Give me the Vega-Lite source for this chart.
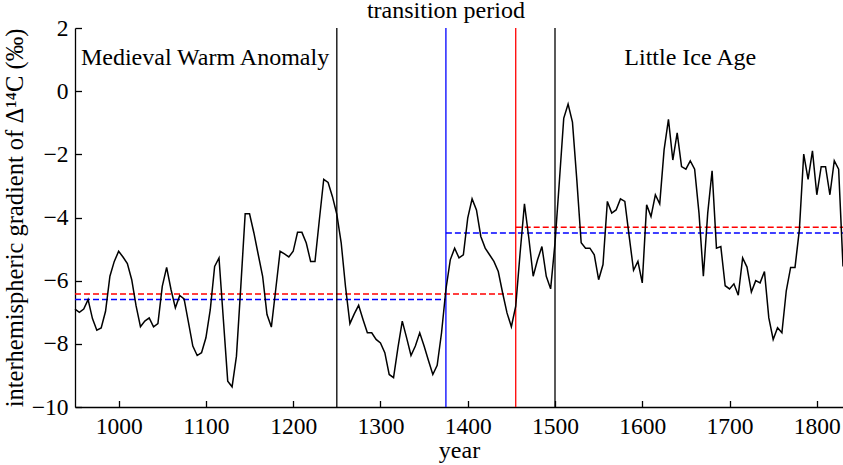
{
  "$schema": "https://vega.github.io/schema/vega-lite/v6.json",
  "width": 768,
  "height": 379,
  "autosize": "none",
  "padding": {"left": 75, "top": 28, "right": 0, "bottom": 58},
  "config": {
    "view": {"stroke": null},
    "font": "Liberation Serif",
    "axis": {
      "grid": false,
      "domainColor": "black",
      "domainWidth": 1.3,
      "tickColor": "black",
      "tickWidth": 1.3,
      "tickSize": 6.5,
      "labelPadding": 7,
      "labelFont": "Liberation Serif",
      "labelFontSize": 23.5,
      "labelColor": "black",
      "titleFont": "Liberation Serif",
      "titleFontSize": 24,
      "titleFontWeight": "normal",
      "titleColor": "black"
    }
  },
  "datasets": {
    "gradient": [
      {"year": 950, "value": -6.9}, {"year": 955, "value": -7.0}, {"year": 960, "value": -6.9},
      {"year": 965, "value": -6.6}, {"year": 970, "value": -7.2}, {"year": 975, "value": -7.57},
      {"year": 980, "value": -7.5}, {"year": 985, "value": -6.97}, {"year": 990, "value": -5.86},
      {"year": 995, "value": -5.39}, {"year": 1000, "value": -5.07}, {"year": 1005, "value": -5.25},
      {"year": 1010, "value": -5.46}, {"year": 1015, "value": -5.97}, {"year": 1020, "value": -6.8},
      {"year": 1025, "value": -7.46}, {"year": 1030, "value": -7.28}, {"year": 1035, "value": -7.18},
      {"year": 1040, "value": -7.46}, {"year": 1045, "value": -7.36}, {"year": 1050, "value": -6.18},
      {"year": 1055, "value": -5.58}, {"year": 1060, "value": -6.28}, {"year": 1065, "value": -6.86},
      {"year": 1070, "value": -6.47}, {"year": 1075, "value": -6.58}, {"year": 1080, "value": -7.32},
      {"year": 1085, "value": -8.07}, {"year": 1090, "value": -8.37}, {"year": 1095, "value": -8.28},
      {"year": 1100, "value": -7.81}, {"year": 1105, "value": -6.92}, {"year": 1110, "value": -5.55},
      {"year": 1115, "value": -5.28}, {"year": 1120, "value": -7.23}, {"year": 1125, "value": -9.18},
      {"year": 1130, "value": -9.36}, {"year": 1135, "value": -8.39}, {"year": 1140, "value": -6.18},
      {"year": 1145, "value": -3.88}, {"year": 1150, "value": -3.88}, {"year": 1155, "value": -4.49},
      {"year": 1160, "value": -5.18}, {"year": 1165, "value": -5.86}, {"year": 1170, "value": -7.07},
      {"year": 1175, "value": -7.47}, {"year": 1180, "value": -6.28}, {"year": 1185, "value": -5.07},
      {"year": 1190, "value": -5.15}, {"year": 1195, "value": -5.25}, {"year": 1200, "value": -5.07},
      {"year": 1205, "value": -4.47}, {"year": 1210, "value": -4.47}, {"year": 1215, "value": -4.81},
      {"year": 1220, "value": -5.39}, {"year": 1225, "value": -5.39}, {"year": 1230, "value": -4.07},
      {"year": 1235, "value": -2.79}, {"year": 1240, "value": -2.89}, {"year": 1245, "value": -3.34},
      {"year": 1250, "value": -3.9}, {"year": 1255, "value": -4.8}, {"year": 1260, "value": -6.2},
      {"year": 1265, "value": -7.36}, {"year": 1270, "value": -7.05}, {"year": 1275, "value": -6.78},
      {"year": 1280, "value": -7.23}, {"year": 1285, "value": -7.65}, {"year": 1290, "value": -7.65},
      {"year": 1295, "value": -7.86}, {"year": 1300, "value": -7.97}, {"year": 1305, "value": -8.28},
      {"year": 1310, "value": -8.97}, {"year": 1315, "value": -9.07}, {"year": 1320, "value": -8.13},
      {"year": 1325, "value": -7.28}, {"year": 1330, "value": -7.81}, {"year": 1335, "value": -8.37},
      {"year": 1340, "value": -8.07}, {"year": 1345, "value": -7.65}, {"year": 1350, "value": -8.07},
      {"year": 1355, "value": -8.53}, {"year": 1360, "value": -8.97}, {"year": 1365, "value": -8.68},
      {"year": 1370, "value": -7.65}, {"year": 1375, "value": -6.28}, {"year": 1380, "value": -5.34},
      {"year": 1385, "value": -4.97}, {"year": 1390, "value": -5.28}, {"year": 1395, "value": -5.18},
      {"year": 1400, "value": -4.02}, {"year": 1405, "value": -3.41}, {"year": 1410, "value": -3.76},
      {"year": 1415, "value": -4.6}, {"year": 1420, "value": -4.97}, {"year": 1425, "value": -5.18},
      {"year": 1430, "value": -5.39}, {"year": 1435, "value": -5.71}, {"year": 1440, "value": -6.39},
      {"year": 1445, "value": -7.02}, {"year": 1450, "value": -7.46}, {"year": 1455, "value": -6.81},
      {"year": 1460, "value": -5.13}, {"year": 1465, "value": -3.57}, {"year": 1470, "value": -4.65},
      {"year": 1475, "value": -5.86}, {"year": 1480, "value": -5.34}, {"year": 1485, "value": -4.92},
      {"year": 1490, "value": -5.86}, {"year": 1495, "value": -6.26}, {"year": 1500, "value": -4.81},
      {"year": 1505, "value": -2.86}, {"year": 1510, "value": -0.86}, {"year": 1515, "value": -0.41},
      {"year": 1520, "value": -0.98}, {"year": 1525, "value": -2.81}, {"year": 1530, "value": -4.8},
      {"year": 1535, "value": -4.97}, {"year": 1540, "value": -4.97}, {"year": 1545, "value": -5.18},
      {"year": 1550, "value": -5.97}, {"year": 1555, "value": -5.49}, {"year": 1560, "value": -3.49},
      {"year": 1565, "value": -3.86}, {"year": 1570, "value": -3.76}, {"year": 1575, "value": -3.41},
      {"year": 1580, "value": -3.49}, {"year": 1585, "value": -4.6}, {"year": 1590, "value": -5.67},
      {"year": 1595, "value": -5.39}, {"year": 1600, "value": -6.07}, {"year": 1605, "value": -3.6},
      {"year": 1610, "value": -3.97}, {"year": 1615, "value": -3.28}, {"year": 1620, "value": -3.57},
      {"year": 1625, "value": -1.86}, {"year": 1630, "value": -0.89}, {"year": 1635, "value": -2.18},
      {"year": 1640, "value": -1.32}, {"year": 1645, "value": -2.39}, {"year": 1650, "value": -2.47},
      {"year": 1655, "value": -2.21}, {"year": 1660, "value": -2.47}, {"year": 1665, "value": -3.86},
      {"year": 1670, "value": -5.86}, {"year": 1675, "value": -3.86}, {"year": 1680, "value": -2.52},
      {"year": 1685, "value": -4.97}, {"year": 1690, "value": -4.92}, {"year": 1695, "value": -6.16},
      {"year": 1700, "value": -6.26}, {"year": 1705, "value": -6.1}, {"year": 1710, "value": -6.46},
      {"year": 1715, "value": -5.28}, {"year": 1720, "value": -5.57}, {"year": 1725, "value": -6.36},
      {"year": 1730, "value": -6.0}, {"year": 1735, "value": -6.07}, {"year": 1740, "value": -5.71},
      {"year": 1745, "value": -7.18}, {"year": 1750, "value": -7.86}, {"year": 1755, "value": -7.49},
      {"year": 1760, "value": -7.65}, {"year": 1765, "value": -6.32}, {"year": 1770, "value": -5.58},
      {"year": 1775, "value": -5.58}, {"year": 1780, "value": -4.39}, {"year": 1785, "value": -1.99},
      {"year": 1790, "value": -2.79}, {"year": 1795, "value": -1.89}, {"year": 1800, "value": -3.28},
      {"year": 1805, "value": -2.39}, {"year": 1810, "value": -2.39}, {"year": 1815, "value": -3.28},
      {"year": 1820, "value": -2.2}, {"year": 1825, "value": -2.47}, {"year": 1830, "value": -5.55}
    ],
    "boundaries": [
      {"year": 1250, "kind": "period"},
      {"year": 1375, "kind": "blue"},
      {"year": 1455, "kind": "red"},
      {"year": 1500, "kind": "period"}
    ],
    "means": [
      {"start": 950, "end": 1455, "value": -6.42, "kind": "red"},
      {"start": 1455, "end": 1830, "value": -4.31, "kind": "red"},
      {"start": 950, "end": 1375, "value": -6.6, "kind": "blue"},
      {"start": 1375, "end": 1830, "value": -4.49, "kind": "blue"}
    ],
    "labels": [
      {"year": 1099, "value": 0.82, "text": "Medieval Warm Anomaly"},
      {"year": 1655, "value": 0.82, "text": "Little Ice Age"},
      {"year": 1375, "value": 2.32, "text": "transition period"}
    ]
  },
  "layer": [
    {
      "data": {"name": "means"},
      "mark": {"type": "rule", "strokeWidth": 1.5, "strokeDash": [6, 3]},
      "encoding": {
        "x": {
          "field": "start", "type": "quantitative", "title": null,
          "axis": {"orient": "top", "offset": -379, "domain": false, "labels": false, "title": null,
                   "ticks": true, "values": [1000, 1100, 1200, 1300, 1400, 1500, 1600, 1700, 1800]}
        },
        "x2": {"field": "end"},
        "y": {
          "field": "value", "type": "quantitative", "title": null,
          "axis": {"orient": "right", "offset": -768, "domain": false, "labels": false, "title": null,
                   "ticks": true, "values": [-10, -8, -6, -4, -2, 0, 2]}
        },
        "color": {
          "field": "kind", "type": "nominal", "legend": null,
          "scale": {"domain": ["period", "blue", "red"], "range": ["black", "#0000ff", "#ff0000"]}
        }
      }
    },
    {
      "data": {"name": "boundaries"},
      "mark": {"type": "rule", "strokeWidth": 1.3},
      "encoding": {
        "x": {"field": "year", "type": "quantitative", "axis": null},
        "color": {"field": "kind", "type": "nominal", "legend": null}
      }
    },
    {
      "data": {"name": "gradient"},
      "mark": {"type": "line", "color": "black", "strokeWidth": 1.5},
      "encoding": {
        "x": {
          "field": "year", "type": "quantitative", "title": "year",
          "scale": {"domain": [950, 1830], "nice": false, "zero": false},
          "axis": {"values": [1000, 1100, 1200, 1300, 1400, 1500, 1600, 1700, 1800], "format": "d",
                   "ticks": false, "titlePadding": 1}
        },
        "y": {
          "field": "value", "type": "quantitative",
          "title": "interhemispheric gradient of Δ¹⁴C (‰)",
          "scale": {"domain": [-10, 2], "nice": false, "zero": false},
          "axis": {"values": [-10, -8, -6, -4, -2, 0, 2], "ticks": false, "titlePadding": 4, "titleFontSize": 24.5}
        }
      }
    },
    {
      "data": {"name": "labels"},
      "mark": {"type": "text", "font": "Liberation Serif", "fontSize": 24, "color": "black", "align": "center", "baseline": "alphabetic"},
      "encoding": {
        "x": {"field": "year", "type": "quantitative", "axis": null},
        "y": {"field": "value", "type": "quantitative", "axis": null},
        "text": {"field": "text"}
      }
    }
  ],
  "resolve": {"axis": {"x": "independent", "y": "independent"}}
}
